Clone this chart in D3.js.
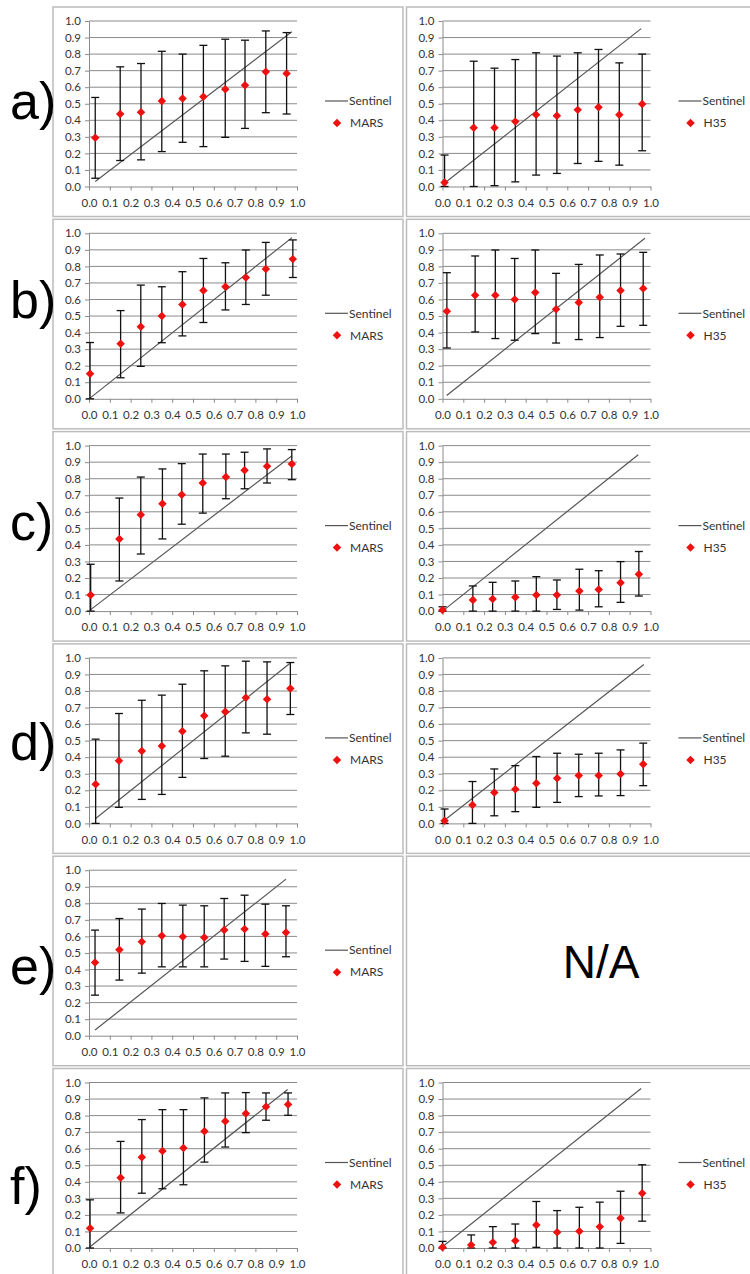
<!DOCTYPE html>
<html>
<head>
<meta charset="utf-8">
<script src="https://cdn.jsdelivr.net/npm/d3@7"></script>
<style>
body { margin: 0; background: #fff; }
text { font-family: Lato, "Liberation Sans", Arial, sans-serif; }
</style>
</head>
<body>
<svg width="750" height="1274"></svg>
<script>
// tick values / labels shared by every panel
var tickValues = [0, 0.1, 0.2, 0.3, 0.4, 0.5, 0.6, 0.7, 0.8, 0.9, 1.0];
var tickLabels = ['0.0','0.1','0.2','0.3','0.4','0.5','0.6','0.7','0.8','0.9','1.0'];
var panelLabels = ['a)', 'b)', 'c)', 'd)', 'e)', 'f)'];

// a) MARS
var marsA_x  = [0.03, 0.15, 0.25, 0.35, 0.45, 0.55, 0.655, 0.75, 0.85, 0.95];
var marsA_y  = [0.295, 0.438, 0.448, 0.516, 0.532, 0.542, 0.588, 0.612, 0.693, 0.683];
var marsA_hi = [0.538, 0.723, 0.743, 0.817, 0.80, 0.853, 0.89, 0.884, 0.94, 0.93];
var marsA_lo = [0.05, 0.157, 0.161, 0.211, 0.267, 0.241, 0.297, 0.351, 0.446, 0.438];
// a) H35
var h35A_x  = [0.01, 0.15, 0.25, 0.35, 0.45, 0.55, 0.65, 0.75, 0.85, 0.96];
var h35A_y  = [0.024, 0.355, 0.355, 0.392, 0.434, 0.428, 0.463, 0.479, 0.434, 0.499];
var h35A_hi = [0.19, 0.757, 0.715, 0.767, 0.808, 0.788, 0.808, 0.828, 0.747, 0.80];
var h35A_lo = [0, 0, 0.005, 0.028, 0.069, 0.079, 0.139, 0.152, 0.129, 0.216];

// b) MARS
var marsB_x  = [0.005, 0.152, 0.249, 0.35, 0.449, 0.55, 0.656, 0.754, 0.85, 0.98];
var marsB_y  = [0.152, 0.333, 0.436, 0.501, 0.57, 0.655, 0.677, 0.733, 0.784, 0.844];
var marsB_hi = [0.34, 0.533, 0.687, 0.677, 0.768, 0.848, 0.822, 0.899, 0.945, 0.96];
var marsB_lo = [0, 0.127, 0.196, 0.339, 0.38, 0.461, 0.537, 0.57, 0.626, 0.733];
// b) H35
var h35B_x  = [0.021, 0.157, 0.254, 0.347, 0.446, 0.546, 0.655, 0.756, 0.856, 0.965];
var h35B_y  = [0.529, 0.626, 0.626, 0.6, 0.642, 0.541, 0.582, 0.614, 0.655, 0.667];
var h35B_hi = [0.762, 0.863, 0.899, 0.848, 0.899, 0.758, 0.812, 0.869, 0.875, 0.885];
var h35B_lo = [0.307, 0.404, 0.364, 0.354, 0.394, 0.337, 0.358, 0.37, 0.438, 0.444];

// c) MARS
var marsC_x  = [0.008, 0.146, 0.249, 0.353, 0.446, 0.547, 0.658, 0.748, 0.856, 0.975];
var marsC_y  = [0.097, 0.436, 0.582, 0.648, 0.703, 0.774, 0.81, 0.851, 0.875, 0.889];
var marsC_hi = [0.283, 0.683, 0.81, 0.859, 0.891, 0.949, 0.949, 0.96, 0.98, 0.976];
var marsC_lo = [0, 0.182, 0.345, 0.436, 0.525, 0.592, 0.679, 0.739, 0.774, 0.794];
// c) H35
var h35C_x  = [0.0, 0.146, 0.241, 0.35, 0.451, 0.55, 0.658, 0.751, 0.856, 0.944];
var h35C_y  = [0.006, 0.067, 0.073, 0.083, 0.097, 0.097, 0.121, 0.131, 0.172, 0.222];
var h35C_hi = [0.026, 0.152, 0.174, 0.182, 0.208, 0.188, 0.253, 0.244, 0.299, 0.36];
var h35C_lo = [0, 0, 0, 0, 0, 0.01, 0.006, 0.026, 0.053, 0.091];

// d) MARS
var marsD_x  = [0.032, 0.144, 0.254, 0.35, 0.449, 0.554, 0.655, 0.754, 0.856, 0.968];
var marsD_y  = [0.237, 0.378, 0.437, 0.467, 0.557, 0.65, 0.674, 0.759, 0.75, 0.815];
var marsD_hi = [0.509, 0.664, 0.744, 0.775, 0.841, 0.922, 0.952, 0.98, 0.976, 0.972];
var marsD_lo = [0, 0.097, 0.145, 0.175, 0.278, 0.392, 0.406, 0.547, 0.539, 0.658];
// d) H35
var h35D_x  = [0.01, 0.144, 0.249, 0.35, 0.451, 0.551, 0.655, 0.751, 0.856, 0.965];
var h35D_y  = [0.016, 0.111, 0.186, 0.206, 0.242, 0.273, 0.289, 0.289, 0.299, 0.358];
var h35D_hi = [0.087, 0.253, 0.329, 0.349, 0.404, 0.424, 0.418, 0.424, 0.444, 0.485];
var h35D_lo = [0, 0, 0.046, 0.071, 0.097, 0.127, 0.162, 0.166, 0.168, 0.228];

// e) MARS (no H35 panel)
var marsE_x  = [0.029, 0.146, 0.254, 0.35, 0.451, 0.554, 0.65, 0.748, 0.848, 0.947];
var marsE_y  = [0.443, 0.519, 0.567, 0.604, 0.598, 0.594, 0.638, 0.644, 0.614, 0.624];
var marsE_hi = [0.638, 0.708, 0.765, 0.799, 0.789, 0.785, 0.829, 0.849, 0.795, 0.785];
var marsE_lo = [0.245, 0.336, 0.378, 0.416, 0.416, 0.416, 0.463, 0.449, 0.419, 0.477];

// f) MARS
var marsF_x  = [0.005, 0.152, 0.254, 0.353, 0.454, 0.555, 0.655, 0.754, 0.851, 0.957];
var marsF_y  = [0.119, 0.424, 0.549, 0.586, 0.604, 0.705, 0.766, 0.812, 0.853, 0.867];
var marsF_hi = [0.291, 0.644, 0.776, 0.836, 0.836, 0.907, 0.937, 0.939, 0.937, 0.937];
var marsF_lo = [0, 0.212, 0.331, 0.358, 0.382, 0.519, 0.61, 0.697, 0.772, 0.802];
// f) H35
var h35F_x  = [0.0, 0.138, 0.242, 0.35, 0.451, 0.551, 0.658, 0.756, 0.856, 0.96];
var h35F_y  = [0.004, 0.018, 0.034, 0.044, 0.139, 0.095, 0.101, 0.129, 0.18, 0.331];
var h35F_hi = [0.04, 0.079, 0.129, 0.145, 0.281, 0.226, 0.246, 0.277, 0.343, 0.503];
var h35F_lo = [0, 0, 0, 0, 0.004, 0, 0, 0, 0.028, 0.162];

// Sentinel reference line, [x0, y0, x1, y1] per panel
var sentinelMars = [[0.03, 0.03, 0.975, 0.935], [0.005, 0.004, 0.976, 0.974], [0.005, 0.006, 0.976, 0.939],
                    [0.032, 0.03, 0.965, 0.966], [0.029, 0.034, 0.947, 0.946], [0.005, 0.008, 0.955, 0.958]];
var sentinelH35  = [[0, 0.01, 0.955, 0.954], [0.02, 0.02, 0.973, 0.97], [0, 0, 0.941, 0.945],
                    [0, 0.01, 0.968, 0.96], null, [0, 0.008, 0.955, 0.964]];

var marsSeries = [
  {x: marsA_x, y: marsA_y, hi: marsA_hi, lo: marsA_lo},
  {x: marsB_x, y: marsB_y, hi: marsB_hi, lo: marsB_lo},
  {x: marsC_x, y: marsC_y, hi: marsC_hi, lo: marsC_lo},
  {x: marsD_x, y: marsD_y, hi: marsD_hi, lo: marsD_lo},
  {x: marsE_x, y: marsE_y, hi: marsE_hi, lo: marsE_lo},
  {x: marsF_x, y: marsF_y, hi: marsF_hi, lo: marsF_lo}
];
var h35Series = [
  {x: h35A_x, y: h35A_y, hi: h35A_hi, lo: h35A_lo},
  {x: h35B_x, y: h35B_y, hi: h35B_hi, lo: h35B_lo},
  {x: h35C_x, y: h35C_y, hi: h35C_hi, lo: h35C_lo},
  {x: h35D_x, y: h35D_y, hi: h35D_hi, lo: h35D_lo},
  null,
  {x: h35F_x, y: h35F_y, hi: h35F_hi, lo: h35F_lo}
];

// layout
var rowPitch = 212.3, firstTop = 7;
var frameW = 350, frameH = 209.5;
var plotW = 208, plotH = 165.5;
var labelBaseline = [119, 318, 540, 760, 984, 1204];

var svg = d3.select('svg');
svg.append('rect').attr('width', 750).attr('height', 1274).attr('fill', '#fff');

var drawPanel = function(left, top, s, sentinel, name) {
  var g = svg.append('g');
  g.append('rect')
    .attr('x', left).attr('y', top)
    .attr('width', frameW).attr('height', frameH)
    .attr('fill', 'none').attr('stroke', '#bcbcbc').attr('stroke-width', 1.5);

  var x0 = left + 36, y0 = top + 14;
  var xScale = d3.scaleLinear().domain([0, 1]).range([x0, x0 + plotW]);
  var yScale = d3.scaleLinear().domain([0, 1]).range([y0 + plotH, y0]);

  // gridlines
  g.selectAll('.grid').data(tickValues.slice(1)).enter().append('line')
    .attr('x1', x0).attr('x2', x0 + plotW)
    .attr('y1', d => yScale(d)).attr('y2', d => yScale(d))
    .attr('stroke', '#8a8a8a').attr('stroke-width', 1);

  var fmt = d => tickLabels[tickValues.indexOf(d)];
  var yAxis = d3.axisLeft(yScale).tickValues(tickValues).tickFormat(fmt).tickSize(4).tickPadding(4).tickSizeOuter(0);
  var xAxis = d3.axisBottom(xScale).tickValues(tickValues).tickFormat(fmt).tickSize(4).tickPadding(8).tickSizeOuter(0);

  var ya = g.append('g').attr('transform', 'translate(' + x0 + ',0)').call(yAxis);
  var xa = g.append('g').attr('transform', 'translate(0,' + (y0 + plotH) + ')').call(xAxis);
  [ya, xa].forEach(a => {
    a.selectAll('path, line').attr('stroke', '#8a8a8a');
    a.selectAll('text').attr('fill', '#333').style('font-size', '11.5px');
  });

  // sentinel line
  g.append('line')
    .attr('x1', xScale(sentinel[0])).attr('y1', yScale(sentinel[1]))
    .attr('x2', xScale(sentinel[2])).attr('y2', yScale(sentinel[3]))
    .attr('stroke', '#555').attr('stroke-width', 1.2);

  var pts = s.x.map((d, i) => ({x: d, y: s.y[i], hi: s.hi[i], lo: s.lo[i]}));

  // error bars
  var eb = g.selectAll('.eb').data(pts).enter().append('g');
  eb.append('line')
    .attr('x1', d => xScale(d.x)).attr('x2', d => xScale(d.x))
    .attr('y1', d => yScale(d.hi)).attr('y2', d => yScale(d.lo))
    .attr('stroke', '#111').attr('stroke-width', 1.3);
  eb.append('line')
    .attr('x1', d => xScale(d.x) - 4).attr('x2', d => xScale(d.x) + 4)
    .attr('y1', d => yScale(d.hi)).attr('y2', d => yScale(d.hi))
    .attr('stroke', '#111').attr('stroke-width', 1.3);
  eb.append('line')
    .attr('x1', d => xScale(d.x) - 4).attr('x2', d => xScale(d.x) + 4)
    .attr('y1', d => yScale(d.lo)).attr('y2', d => yScale(d.lo))
    .attr('stroke', '#111').attr('stroke-width', 1.3);

  // diamond markers
  var diamond = d3.symbol().type(d3.symbolSquare).size(36);
  g.selectAll('.pt').data(pts).enter().append('path')
    .attr('d', diamond)
    .attr('transform', d => 'translate(' + xScale(d.x) + ',' + yScale(d.y) + ') rotate(45)')
    .attr('fill', '#ee1111');

  // legend
  var ly = y0 + 80;
  g.append('line').attr('x1', x0 + 236).attr('x2', x0 + 259).attr('y1', ly).attr('y2', ly)
    .attr('stroke', '#555').attr('stroke-width', 1.2);
  g.append('text').attr('x', x0 + 260).attr('y', ly).attr('dy', '0.35em')
    .style('font-size', '12px').attr('fill', '#333').text('Sentinel');
  g.append('path').attr('d', diamond)
    .attr('transform', 'translate(' + (x0 + 248) + ',' + (ly + 22) + ') rotate(45)')
    .attr('fill', '#ee1111');
  g.append('text').attr('x', x0 + 261).attr('y', ly + 22).attr('dy', '0.35em')
    .style('font-size', '12px').attr('fill', '#333').text(name);
};

panelLabels.forEach((lab, i) => {
  var top = firstTop + i * rowPitch;
  drawPanel(53, top, marsSeries[i], sentinelMars[i], 'MARS');
  if (h35Series[i]) {
    drawPanel(406.5, top, h35Series[i], sentinelH35[i], 'H35');
  } else {
    svg.append('rect').attr('x', 406.5).attr('y', top).attr('width', frameW).attr('height', frameH)
      .attr('fill', 'none').attr('stroke', '#bcbcbc').attr('stroke-width', 1.5);
    svg.append('text').attr('x', 601).attr('y', top + 121.5)
      .attr('text-anchor', 'middle')
      .style('font-family', '"Liberation Sans", Arial, sans-serif')
      .style('font-size', '46px').attr('fill', '#000').text('N/A');
  }
  svg.append('text').attr('x', 10).attr('y', labelBaseline[i])
    .style('font-family', '"Liberation Sans", Arial, sans-serif')
    .style('font-size', '52px').attr('fill', '#000').text(lab);
});
</script>
</body>
</html>
